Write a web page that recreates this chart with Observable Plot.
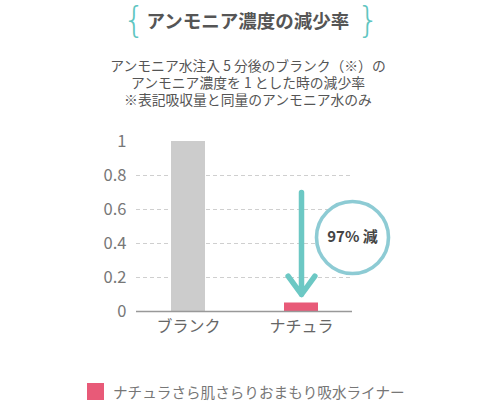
<!DOCTYPE html>
<html>
<head>
<meta charset="utf-8">
<script src="https://cdn.jsdelivr.net/npm/d3@7"></script>
<script src="https://cdn.jsdelivr.net/npm/@observablehq/plot@0.6"></script>
<style>
  html, body { margin: 0; padding: 0; background: #fff; }
  body { width: 496px; height: 401px; overflow: hidden; font-family: "Noto Sans CJK JP", "Noto Sans", sans-serif; position: relative; }
  #header { position: relative; height: 125px; }
  #title { position: absolute; left: 0; width: 496px; top: 6px; text-align: center; font-size: 18.5px; font-weight: bold; color: #555; line-height: 28px; }
  .brace { position: absolute; top: 0px; color: #5fc6c1; font-weight: 200; font-size: 35px; line-height: normal; font-family: "DejaVu Sans", sans-serif; }
  #subtitle { position: absolute; left: 0; width: 496px; top: 57px; text-align: center; font-size: 13.8px; color: #555; }
  #subtitle div { height: 17px; line-height: 17px; }
  #chart { height: 240px; }
  #legend { position: absolute; left: 87px; top: 381px; display: flex; align-items: center; font-size: 14.6px; color: #777; }
  #legend .sw { width: 17px; height: 17px; margin-right: 9px; }
</style>
</head>
<body>
<div id="header">
  <div id="title"></div>
  <span class="brace" id="braceL" style="left:123px">{</span>
  <span class="brace" id="braceR" style="left:357px">}</span>
  <div id="subtitle"></div>
</div>
<div id="chart"></div>
<div id="legend"></div>
<script>
const categories = ["ブランク", "ナチュラ"];
const values = [1, 0.05];
const barColors = ["#cccccc", "#e85a78"];
const yTicks = [0, 0.2, 0.4, 0.6, 0.8, 1];
const gridTicks = [0.2, 0.4, 0.6, 0.8];
const arrowStart = [0.70];
const arrowEnd = [0.10];
const badgeY = [0.435];
const badgeLabel = ["97% 減"];
const titleText = "アンモニア濃度の減少率";
const subtitleLines = ["アンモニア水注入 5 分後のブランク（※）の", "アンモニア濃度を 1 とした時の減少率", "※表記吸収量と同量のアンモニア水のみ"];
const legendLabel = "ナチュラさら肌さらりおまもり吸水ライナー";

document.getElementById("title").textContent = titleText;
const sub = document.getElementById("subtitle");
subtitleLines.forEach(t => { const d = document.createElement("div"); d.textContent = t; sub.appendChild(d); });
document.getElementById("legend").innerHTML =
  '<div class="sw" style="background:' + barColors[1] + '"></div><span>' + legendLabel + '</span>';

const bars = categories.map((c, i) => ({category: c, value: values[i], color: barColors[i]}));
const target = categories[1];

const chart = Plot.plot({
  width: 496,
  height: 240,
  marginTop: 16,
  marginBottom: 54,
  marginLeft: 136,
  marginRight: 144,
  style: {fontFamily: '"Noto Sans CJK JP", "Noto Sans", sans-serif', overflow: "visible"},
  x: {type: "band", domain: categories, paddingInner: 0.7, paddingOuter: 0.3, label: null},
  y: {domain: [0, 1], label: null},
  marks: [
    Plot.gridY(gridTicks, {stroke: "#cfcfcf", strokeOpacity: 1, strokeDasharray: "4,3"}),
    Plot.barY(bars, {x: "category", y: "value", fill: "color"}),
    Plot.ruleX([0], {x: () => null, frameAnchor: "left", stroke: "#aaa", strokeWidth: 1.3}),
    Plot.axisY(yTicks, {tickSize: 0, tickPadding: 10, fontSize: 16.5, fill: "#777", tickFormat: d => String(d), label: null}),
    Plot.axisX({tickSize: 0, tickPadding: 9, fontSize: 16, fill: "#666", label: null}),
    Plot.ruleY([0], {stroke: "#999", strokeWidth: 1.5}),
    Plot.arrow(arrowStart, {
      x1: () => target, x2: () => target,
      y1: d => d, y2: (d, i) => arrowEnd[i],
      stroke: "#6cc8c4", strokeWidth: 5.5, headAngle: 72, headLength: 6.2,
      strokeLinecap: "round", strokeLinejoin: "round"
    }),
    Plot.dot(badgeY, {x: () => target, y: d => d, r: 36, dx: 51, fill: "white", stroke: "#8dcbd4", strokeWidth: 3.6}),
    Plot.text(badgeLabel, {x: () => target, y: (d, i) => badgeY[i], text: d => d, dx: 51, fontSize: 15, fontWeight: "bold", fill: "#444"})
  ]
});
document.getElementById("chart").appendChild(chart);
</script>
</body>
</html>
